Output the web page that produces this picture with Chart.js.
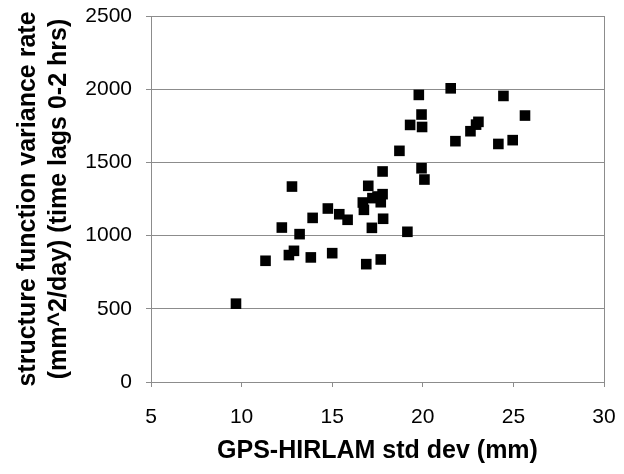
<!DOCTYPE html>
<html>
<head>
<meta charset="utf-8">
<script src="https://cdn.jsdelivr.net/npm/chart.js@4/dist/chart.umd.min.js"></script>
<style>
  body { margin: 0; background: #fff; }
  #wrap { width: 624px; height: 474px; position: relative; }
</style>
</head>
<body>
<div id="wrap"><canvas id="scatterChart"></canvas></div>
<script>
// GPS-HIRLAM std dev (mm)
const stdDev = [
  9.69, 11.32, 12.22, 12.78, 12.61, 12.89, 13.2, 13.82, 13.92, 14.76,
  15.0, 15.39, 15.85, 16.69, 16.75, 16.99, 16.88, 17.19, 17.22, 17.5,
  17.78, 17.68, 17.81, 17.78, 17.68, 18.71, 19.15, 19.3, 19.78, 19.93,
  19.96, 19.93, 20.09, 21.54, 21.8, 22.63, 22.94, 23.07, 24.17, 24.45,
  24.96, 25.64
];
// structure function variance rate (mm^2/day)
const varianceRate = [
  535, 828, 1055, 1335, 867, 896, 1010, 851, 1121, 1185,
  880, 1146, 1108, 1226, 1176, 1340, 805, 1053, 1256, 1267,
  1283, 1228, 1115, 1438, 837, 1579, 1026, 1756, 1961, 1827,
  1742, 1460, 1383, 2006, 1645, 1713, 1758, 1777, 1626, 1954,
  1652, 1820
];

const gridGray = "#8c8c8c";

const points = stdDev.map((x, i) => ({ x: x, y: varianceRate[i] }));

// draws the box around the plot area
const frame = {
  id: "frame",
  beforeDatasetsDraw(chart) {
    const { ctx, chartArea: a } = chart;
    ctx.save();
    ctx.strokeStyle = gridGray;
    ctx.lineWidth = 1;
    ctx.strokeRect(a.left + 0.5, a.top + 0.5, a.right - a.left, a.bottom - a.top);
    ctx.restore();
  }
};

new Chart(document.getElementById("scatterChart"), {
  type: "scatter",
  data: {
    datasets: [{
      data: points,
      pointStyle: "rect",
      pointRadius: 7.5,
      pointHoverRadius: 7.5,
      backgroundColor: "#000",
      borderColor: "#000",
      borderWidth: 0
    }]
  },
  options: {
    responsive: true,
    maintainAspectRatio: false,
    animation: false,
    layout: { padding: { top: 16, right: 20, left: 0, bottom: 0 } },
    plugins: { legend: { display: false }, tooltip: { enabled: false } },
    scales: {
      x: {
        type: "linear",
        min: 5,
        max: 30,
        afterFit: (scale) => {
          scale.height = 92;
          scale.paddingLeft = 0;
          scale.paddingRight = 12;
        },
        ticks: {
          stepSize: 5,
          color: "#000",
          padding: 18,
          callback: (v) => String(v),
          font: { family: "Liberation Sans, Arial", size: 21 }
        },
        grid: { color: "rgba(0,0,0,0)", tickColor: gridGray, tickLength: 5 },
        border: { color: gridGray },
        title: {
          display: true,
          text: "GPS-HIRLAM std dev (mm)",
          color: "#000",
          padding: { top: 0, bottom: 7 },
          font: { family: "Liberation Sans, Arial", size: 25, weight: "bold", lineHeight: 1.24 }
        }
      },
      y: {
        min: 0,
        max: 2500,
        afterFit: (scale) => {
          scale.width = 151;
          scale.paddingTop = 12;
          scale.paddingBottom = 12;
        },
        ticks: {
          stepSize: 500,
          color: "#000",
          padding: 14,
          callback: (v) => String(v),
          font: { family: "Liberation Sans, Arial", size: 21 }
        },
        grid: { color: gridGray, tickColor: gridGray, tickLength: 5 },
        border: { color: gridGray },
        title: {
          display: true,
          text: ["structure function variance rate", "(mm^2/day) (time lags 0-2 hrs)"],
          color: "#000",
          padding: { top: 13, bottom: 0 },
          font: { family: "Liberation Sans, Arial", size: 25, weight: "bold", lineHeight: 1.24 }
        }
      }
    }
  },
  plugins: [frame]
});
</script>
</body>
</html>
